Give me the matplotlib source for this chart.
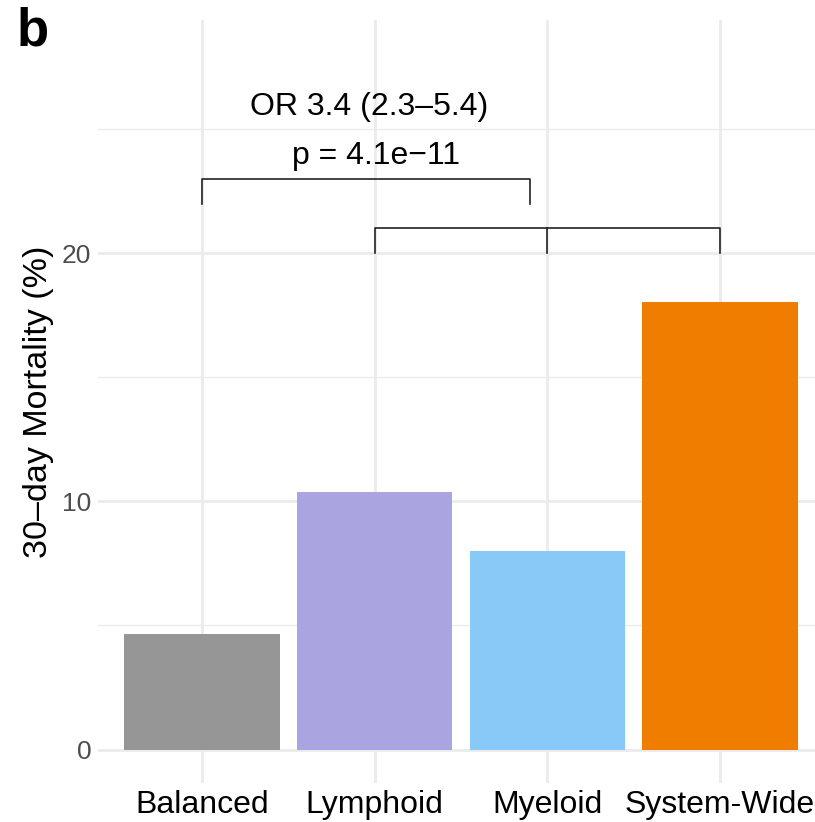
import numpy as np
import matplotlib
matplotlib.use("Agg")
import matplotlib.pyplot as plt

plt.rcParams['font.family'] = ['Liberation Sans', 'DejaVu Sans']

# data
groups = ["Balanced", "Lymphoid", "Myeloid", "System-Wide"]
mortality = [4.64, 10.38, 7.99, 18.03]
colors = ["#969696", "#AAA4E0", "#88C9F7", "#F07C00"]

# bracket annotations (x in category index, y in %)
br1_x = [0, 1.9]
br1_y = [22.0, 23.0]
br2_x = [1, 2, 3]
br2_y = [20.0, 21.0]
or_text = "OR 3.4 (2.3\u20135.4)"
p_text = "p = 4.1e\u221211"

fig = plt.figure(figsize=(8.15, 8.22), dpi=100)
ax = fig.add_axes([0.1207, 0.0474, 0.8898, 0.9283])

x = np.arange(len(groups))
ax.bar(x, mortality, width=0.9, color=colors, zorder=3)

ax.set_xlim(-0.6, 3.6)
ax.set_ylim(-1.35, 29.4)
ax.set_xticks(x)
ax.set_xticklabels(groups, fontsize=23, color="black")
ax.set_yticks([0, 10, 20])
ax.set_yticklabels(["0", "10", "20"], fontsize=19, color="#4D4D4D")
ax.set_yticks([5, 15, 25], minor=True)
ax.tick_params(axis="x", length=0, pad=5)
ax.tick_params(axis="y", length=0, pad=5)
ax.tick_params(axis="y", which="minor", length=0)

ax.grid(True, which="major", color="#EBEBEB", linewidth=2.0, zorder=0)
ax.grid(True, which="minor", axis="y", color="#EBEBEB", linewidth=1.0, zorder=0)
ax.set_axisbelow(True)
for s in ax.spines.values():
    s.set_visible(False)

ax.set_ylabel("30\u2013day Mortality (%)", fontsize=24.5, labelpad=6)

# brackets
lc = "#222222"
ax.plot([br1_x[0], br1_x[0], br1_x[1], br1_x[1]],
        [br1_y[0], br1_y[1], br1_y[1], br1_y[0]], color=lc, lw=1.2, zorder=4)
ax.plot([br2_x[0], br2_x[0], br2_x[2], br2_x[2]],
        [br2_y[0], br2_y[1], br2_y[1], br2_y[0]], color=lc, lw=1.2, zorder=4)
ax.plot([br2_x[1], br2_x[1]], [br2_y[0], br2_y[1]], color=lc, lw=1.2, zorder=4)

xm = np.mean(br1_x)
ax.text(xm + 0.02, 25.9, or_text, ha="center", va="center", fontsize=23)
ax.text(xm + 0.06, 23.9, p_text, ha="center", va="center", fontsize=23)

fig.text(0.02, 0.962, "b", fontsize=38, fontweight="bold", ha="left", va="center")

fig.savefig("out.png", dpi=100)
